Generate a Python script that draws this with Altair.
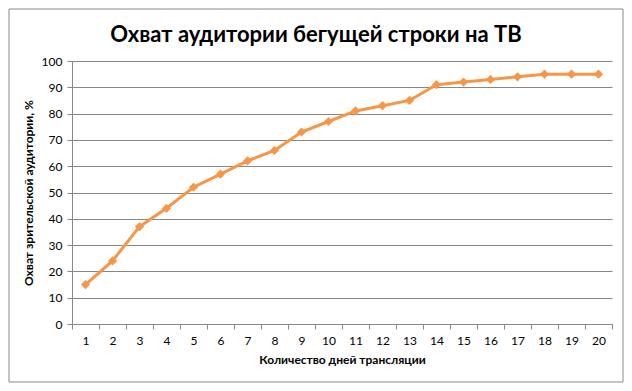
import altair as alt
import pandas as pd

days = list(range(1, 21))
reach = [15, 24, 37, 44, 52, 57, 62, 66, 73, 77, 81, 83, 85, 91, 92, 93, 94, 95, 95, 95]
y_ticks = list(range(0, 101, 10))
chart_title = "Охват аудитории бегущей строки на ТВ"
x_title = "Количество  дней трансляции"
y_title = "Охват зрительской аудитории, %"

df = pd.DataFrame({"day": days, "reach": reach})

FONT = "Lato"
GRID = "#878787"
ORANGE = "#F79646"

base = alt.Chart(df).encode(
    x=alt.X(
        "day:O",
        scale=alt.Scale(type="band", paddingInner=0, paddingOuter=0),
        axis=alt.Axis(
            title=x_title,
            labelAngle=0,
            tickBand="extent",
            grid=False,
            domainColor=GRID,
            tickColor=GRID,
            tickSize=5,
            labelPadding=6,
            labelFont=FONT,
            labelFontSize=12,
            labelColor="#000000",
            titleFont=FONT,
            titleFontSize=12,
            titleFontWeight="bold",
            titleColor="#000000",
            titlePadding=8,
        ),
    ),
    y=alt.Y(
        "reach:Q",
        scale=alt.Scale(domain=[0, 100]),
        axis=alt.Axis(
            title=y_title,
            values=y_ticks,
            grid=True,
            gridColor=GRID,
            domainColor=GRID,
            tickColor=GRID,
            tickSize=5,
            labelPadding=5,
            labelFont=FONT,
            labelFontSize=12,
            labelColor="#000000",
            titleFont=FONT,
            titleFontSize=12,
            titleFontWeight="bold",
            titleColor="#000000",
            titlePadding=6,
        ),
    ),
)

one = pd.DataFrame({"t": [chart_title]})

border = alt.Chart(one).mark_rect(
    fillOpacity=0, stroke="#888888", strokeWidth=1
).encode(
    x=alt.value(-63), x2=alt.value(551), y=alt.value(-52), y2=alt.value(321)
)

title = alt.Chart(one).mark_text(
    font=FONT, fontSize=22, fontWeight="bold", color="#000000", baseline="middle"
).encode(text="t:N", x=alt.value(244), y=alt.value(-26))

line = base.mark_line(color=ORANGE, strokeWidth=3)
pts = base.mark_point(shape="diamond", filled=True, size=85, color=ORANGE, opacity=1)

chart = (border + title + line + pts).properties(
    width=540,
    height=263,
    autosize="none",
    padding={"left": 64, "top": 53, "right": 12, "bottom": 59},
).configure_view(stroke=None)

chart.save("out.html", embed_options={"renderer": "svg", "actions": False})
